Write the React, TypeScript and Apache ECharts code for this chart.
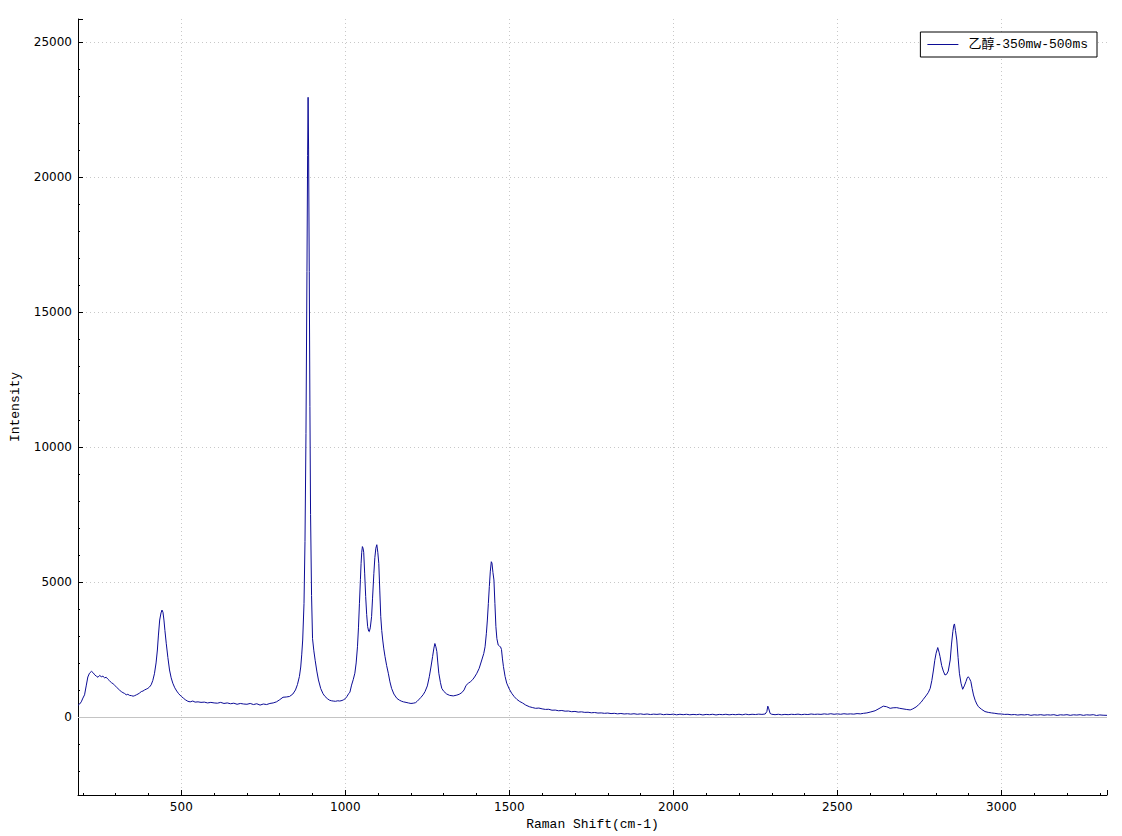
import React, { useEffect, useRef } from "react";
import * as echarts from "echarts";

const seriesName = "乙醇-350mw-500ms";
const xAxisName = "Raman Shift(cm-1)";
const yAxisName = "Intensity";
const xRange = [185, 3322];
const yRange = [-2890, 25850];
const zeroLevel = 0;

// [Raman shift (cm-1), intensity]
const lowRegion: [number, number][] = [
  [185, 430], [190, 480], [195, 560], [200, 700], [205, 820], [210, 1150], [215, 1480], [220, 1620],
  [226, 1690], [231, 1640], [236, 1560], [241, 1510], [246, 1470], [251, 1540], [256, 1490], [261, 1510],
  [266, 1450], [271, 1470], [276, 1400], [281, 1340], [287, 1270], [292, 1230], [297, 1170], [302, 1110],
  [307, 1050], [312, 990], [317, 940], [322, 900], [327, 870], [332, 820], [337, 840], [342, 800],
  [348, 790], [353, 770], [358, 790], [363, 820], [368, 850], [373, 890], [378, 940], [383, 960],
  [388, 1000], [393, 1030], [398, 1060], [403, 1110], [408, 1190], [413, 1350], [418, 1600], [423, 2000],
  [427, 2480], [430, 3000], [434, 3590], [438, 3850], [441, 3960], [444, 3880], [447, 3590], [450, 3200],
  [454, 2730], [459, 2200], [464, 1740], [469, 1450], [474, 1250], [480, 1080], [486, 960], [492, 860],
  [500, 760], [506, 700], [512, 640], [520, 580], [527, 560], [535, 590], [542, 550], [551, 560],
  [560, 540], [570, 550], [580, 520], [590, 540], [600, 520], [610, 510], [620, 540], [630, 500],
  [640, 520], [650, 490], [660, 510], [670, 470], [680, 500], [690, 480], [700, 470], [710, 500],
  [720, 460], [730, 490], [740, 440], [750, 480], [760, 460], [770, 500], [780, 520], [790, 560],
  [800, 640], [810, 730], [820, 740], [830, 760], [840, 850], [848, 1000],
];

const mainPeak: [number, number][] = [
  [854, 1200], [860, 1500], [864, 1850], [867, 2300], [870, 2850], [874, 4200], [877, 6500], [880, 10500],
  [883, 16500], [885, 20800], [886.5, 22950], [888, 21000], [890, 16500], [892, 11500], [894, 7500],
  [897, 4500], [900, 2900], [904, 2450], [908, 2100], [913, 1700], [918, 1370], [925, 1050], [932, 860],
  [938, 760], [945, 680], [952, 620], [958, 600], [963, 590], [970, 580], [977, 600], [983, 590],
  [990, 610], [995, 640], [1000, 680], [1005, 760], [1010, 860], [1014, 920], [1019, 1180],
];

const midRegion: [number, number][] = [
  [1024, 1380], [1029, 1620], [1033, 2000], [1037, 2600], [1040, 3300], [1043, 4210], [1046, 5100],
  [1048, 5690], [1050, 6100], [1052, 6310], [1054, 6250], [1056, 6100], [1059, 5300], [1062, 4460],
  [1065, 3800], [1068, 3345], [1071, 3180], [1073, 3160], [1076, 3300], [1080, 3715], [1083, 4400],
  [1087, 5320], [1090, 5900], [1093, 6250], [1096, 6380], [1099, 6100], [1102, 5690], [1105, 4700],
  [1108, 3715], [1111, 3200], [1114, 2850], [1117, 2550], [1121, 2235], [1126, 1900], [1131, 1620],
  [1136, 1300], [1141, 1060], [1148, 850], [1157, 690], [1165, 620], [1172, 580], [1177, 560],
  [1185, 540], [1192, 520], [1200, 500], [1207, 510], [1214, 530], [1219, 580], [1223, 630],
  [1230, 720], [1237, 820], [1243, 940], [1250, 1150], [1256, 1490], [1261, 1850], [1266, 2235],
  [1270, 2550], [1273, 2720], [1276, 2600], [1279, 2420], [1282, 2000], [1285, 1620], [1290, 1270],
  [1294, 1060], [1300, 950], [1309, 850], [1318, 800], [1329, 780], [1340, 810], [1347, 840],
  [1355, 900], [1362, 1000], [1368, 1170], [1375, 1250], [1381, 1300], [1388, 1380], [1394, 1480],
  [1401, 1620], [1408, 1800], [1416, 2110], [1422, 2350], [1426, 2600], [1430, 3100], [1433, 3590],
  [1436, 4200], [1439, 4830], [1442, 5400], [1445, 5750], [1447, 5700], [1450, 5350], [1453, 5075],
  [1456, 4200], [1459, 3345], [1462, 2900], [1466, 2665], [1470, 2620], [1473, 2600], [1476, 2500],
  [1479, 2150], [1482, 1865], [1487, 1500], [1492, 1250], [1500, 1030], [1507, 880], [1515, 750],
  [1523, 650], [1532, 570], [1540, 520], [1550, 440], [1561, 380], [1570, 350], [1580, 320], [1590, 330],
];

const quietRegion: [number, number][] = [
  [1600, 300], [1610, 280], [1620, 285], [1630, 250], [1640, 255], [1650, 230], [1660, 240], [1670, 215],
  [1680, 220], [1690, 195], [1700, 205], [1710, 180], [1720, 190], [1730, 170], [1740, 175], [1750, 155],
  [1760, 165], [1770, 145], [1780, 150], [1790, 135], [1800, 145], [1810, 125], [1820, 135], [1830, 115],
  [1840, 130], [1850, 110], [1860, 120], [1870, 105], [1880, 120], [1890, 100], [1900, 115], [1910, 95],
  [1920, 110], [1930, 90], [1940, 105], [1950, 95], [1960, 110], [1970, 85], [1980, 100], [1990, 90],
  [2000, 105], [2010, 80], [2020, 100], [2030, 85], [2040, 100], [2050, 80], [2060, 95], [2070, 85],
  [2080, 100], [2090, 75], [2100, 95], [2110, 85], [2120, 100], [2130, 75], [2140, 95], [2150, 85],
  [2160, 100], [2170, 80], [2180, 95], [2190, 85], [2200, 100], [2210, 80], [2220, 105], [2230, 85],
  [2240, 100], [2250, 90], [2260, 105], [2270, 95], [2280, 110], [2285, 200], [2288, 400], [2291, 300],
  [2295, 130], [2300, 100], [2310, 85], [2320, 100], [2330, 80], [2340, 95], [2350, 85], [2360, 100],
  [2370, 90], [2380, 105], [2390, 85], [2400, 100], [2410, 90], [2420, 110], [2430, 95], [2440, 105],
  [2450, 95], [2460, 115], [2470, 100], [2480, 120], [2490, 100], [2500, 115], [2510, 100], [2520, 120],
  [2530, 105], [2540, 115], [2550, 105], [2560, 125], [2570, 115], [2580, 135], [2590, 150],
];

const chRegion: [number, number][] = [
  [2600, 180], [2615, 230], [2630, 330], [2640, 400], [2650, 380], [2661, 320], [2670, 340], [2681, 345],
  [2690, 320], [2700, 300], [2710, 280], [2722, 260], [2730, 300], [2740, 370], [2747, 445], [2755, 540],
  [2762, 655], [2770, 780], [2777, 900], [2783, 1060], [2788, 1350], [2793, 1740], [2797, 2100],
  [2801, 2360], [2806, 2570], [2810, 2400], [2813, 2235], [2818, 1900], [2823, 1700], [2828, 1555],
  [2833, 1580], [2838, 1700], [2844, 2110], [2848, 2700], [2852, 3160], [2855, 3400], [2857, 3445],
  [2860, 3200], [2864, 2850], [2868, 2200], [2872, 1620], [2877, 1250], [2882, 1025], [2887, 1150],
  [2892, 1310], [2896, 1450], [2899, 1490], [2903, 1420], [2907, 1310], [2911, 1050], [2915, 815],
  [2920, 620], [2925, 480], [2930, 380], [2940, 280],
];

const tailRegion: [number, number][] = [
  [2950, 200], [2960, 170], [2970, 150], [2980, 135], [2990, 115], [3000, 110], [3010, 95], [3020, 100],
  [3030, 80], [3040, 90], [3050, 70], [3060, 85], [3070, 75], [3080, 90], [3090, 60], [3100, 80],
  [3110, 70], [3120, 85], [3130, 65], [3140, 80], [3150, 70], [3160, 85], [3170, 55], [3180, 80],
  [3190, 70], [3200, 85], [3210, 60], [3220, 80], [3230, 70], [3240, 85], [3250, 60], [3260, 80],
  [3270, 70], [3280, 85], [3290, 55], [3300, 75], [3310, 65], [3322, 60],
];

export default function App() {
  const ref = useRef<HTMLDivElement>(null);
  useEffect(() => {
    if (!ref.current) return;
    const chart = echarts.init(ref.current, undefined, { renderer: "svg" });
    const data = [
      ...lowRegion,
      ...mainPeak,
      ...midRegion,
      ...quietRegion,
      ...chRegion,
      ...tailRegion,
    ];
    const monoFont = "'Liberation Mono', 'Noto Sans CJK SC', monospace";
    const labelFont = "'DejaVu Sans', sans-serif";
    const lineColor = "#0c0c96";
    const commonAxis = {
      type: "value",
      nameLocation: "middle",
      nameTextStyle: { fontFamily: monoFont, fontSize: 13, color: "#000" },
      axisLine: { show: true, onZero: false, lineStyle: { color: "#000", width: 1 } },
      axisTick: { show: true, inside: true, length: 5, lineStyle: { color: "#000" } },
      minorTick: { show: true, splitNumber: 5, length: 2, lineStyle: { color: "#000" } },
      axisLabel: {
        color: "#000",
        fontFamily: labelFont,
        fontSize: 12,
        margin: 6,
        showMinLabel: false,
        showMaxLabel: false,
        formatter: (v: number) => String(v),
      },
      splitLine: {
        show: true,
        showMinLine: false,
        showMaxLine: false,
        lineStyle: { color: "#c8c8c8", type: [1, 3], width: 1 },
      },
    };
    chart.setOption({
      animation: false,
      backgroundColor: "#ffffff",
      grid: { left: 78, right: 15, top: 19, bottom: 41, containLabel: false, outerBoundsMode: "none" },
      legend: {
        right: 25,
        top: 32,
        orient: "vertical",
        backgroundColor: "#ffffff",
        borderColor: "#000000",
        borderWidth: 1,
        borderRadius: 0,
        padding: [6, 9, 6, 7],
        itemWidth: 31,
        itemHeight: 14,
        textStyle: { fontFamily: monoFont, fontSize: 13, color: "#000", padding: [0, 0, 0, 5] },
        data: [{ name: seriesName, icon: "path://M0,0H31V1H0Z" }],
      },
      xAxis: {
        ...commonAxis,
        min: xRange[0],
        max: xRange[1],
        splitNumber: 6,
        name: xAxisName,
        nameGap: 22,
      },
      yAxis: {
        ...commonAxis,
        min: yRange[0],
        max: yRange[1],
        splitNumber: 5,
        name: yAxisName,
        nameGap: 56,
      },
      series: [
        {
          name: seriesName,
          type: "line",
          data,
          symbol: "none",
          showSymbol: false,
          lineStyle: { color: lineColor, width: 1 },
          itemStyle: { color: lineColor },
          z: 3,
          markLine: {
            silent: true,
            symbol: "none",
            label: { show: false },
            lineStyle: { color: "#c4c4c4", type: "solid", width: 1.2 },
            data: [{ yAxis: zeroLevel }],
            z: 1,
          },
        },
      ],
    });
    return () => chart.dispose();
  }, []);
  return (
    <div
      ref={ref}
      style={{ position: "fixed", left: 0, top: 0, width: 1122, height: 836, background: "#fff" }}
    />
  );
}
